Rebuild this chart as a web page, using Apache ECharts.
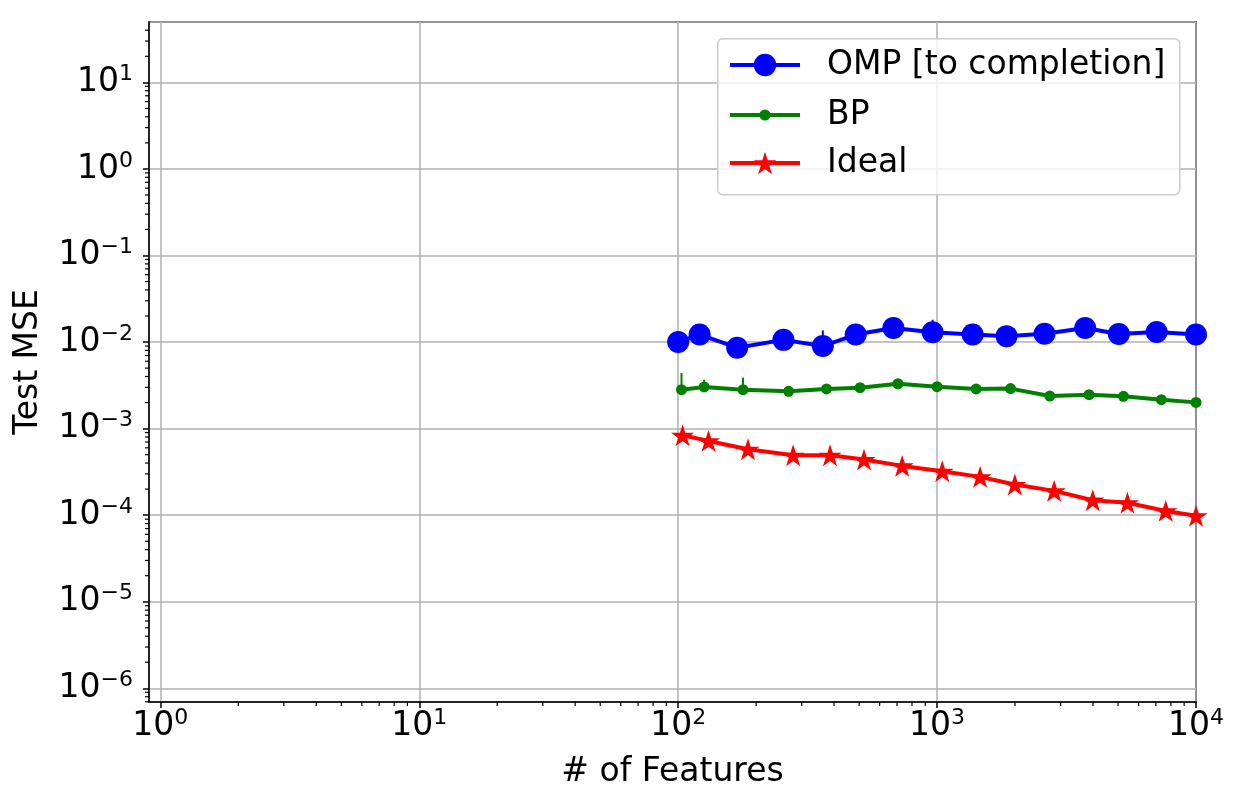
<!DOCTYPE html>
<html>
<head>
<meta charset="utf-8">
<script src="https://cdn.jsdelivr.net/npm/echarts@6/dist/echarts.min.js"></script>
<style>
  html, body { margin: 0; padding: 0; background: #fff; }
  #chart { width: 1241px; height: 806px; }
</style>
</head>
<body>
<div id="chart"></div>
<script>
// values
var ompX   = [100, 121, 169, 255, 362, 485, 678, 961, 1372, 1855, 2600, 3733, 5035, 7047, 10000];
var ompY   = [0.0100, 0.0122, 0.0086, 0.0106, 0.0090, 0.0122, 0.0145, 0.0130, 0.0122, 0.0117, 0.0125, 0.0145, 0.0124, 0.0131, 0.0122];
var bpX    = [103, 126, 178, 267, 374, 504, 706, 1000, 1415, 1922, 2725, 3863, 5245, 7350, 10000];
var bpY    = [0.00282, 0.00303, 0.00282, 0.00270, 0.00287, 0.00297, 0.00330, 0.00305, 0.00287, 0.00290, 0.00238, 0.00247, 0.00236, 0.00216, 0.00201];
var idealX = [104, 131, 186, 278, 386, 522, 733, 1047, 1466, 1996, 2832, 3992, 5433, 7638, 10000];
var idealY = [0.000837, 0.000721, 0.000578, 0.000493, 0.000493, 0.000439, 0.000371, 0.000322, 0.000277, 0.000226, 0.000191, 0.000149, 0.000139, 0.000112, 0.0000983];

// error bars that stick out of the markers: [x, value, upper]
var ompErr = [[362, 0.0090, 0.01365], [961, 0.0130, 0.0181]];
var bpErr  = [[103, 0.00282, 0.00439], [126, 0.00303, 0.00367], [178, 0.00282, 0.00388]];

var names = ['OMP [to completion]', 'BP', 'Ideal'];
var colors = ['#0000ff', '#008000', '#ff0000'];

var xMin = 0.904, xMax = 10000;
var yMin = 6.95e-7, yMax = 49.8;

var FONT = 'DejaVu Sans';
var star = 'path://M50,0 L61.23,34.55 L97.55,34.55 L68.17,55.9 L79.39,90.45 L50,69.1 L20.61,90.45 L31.83,55.9 L2.45,34.55 L38.77,34.55 Z';

function pairs(xs, ys) {
    return xs.map(function (x, i) { return [x, ys[i]]; });
}

function powLabel(v) {
    var e = Math.round(Math.log(v) / Math.LN10);
    return '{b|10}{s|' + (e < 0 ? '\u2212' + (-e) : e) + '}';
}

var labelRich = {
    b: { fontSize: 33, fontFamily: FONT, color: '#000', lineHeight: 38 },
    s: { fontSize: 22, fontFamily: FONT, color: '#000', lineHeight: 24, verticalAlign: 'top' }
};

// minor tick positions 2..9 of each decade
var xMinor = [], yMinor = [];
for (var k = 0; k <= 3; k++) for (var m = 2; m <= 9; m++) xMinor.push([m * Math.pow(10, k), yMin]);
for (var k = -7; k <= 1; k++) for (var m = 2; m <= 9; m++) {
    var v = m * Math.pow(10, k);
    if (v >= yMin && v <= yMax) yMinor.push([xMin, v]);
}

function minorTicks(data, dir) {
    return {
        type: 'custom', data: data, silent: true, z: 5,
        renderItem: function (params, api) {
            var p = api.coord([api.value(0), api.value(1)]);
            var s = dir == 'x' ? { x1: p[0], y1: p[1], x2: p[0], y2: p[1] + 4 }
                               : { x1: p[0] - 4, y1: p[1], x2: p[0], y2: p[1] };
            return { type: 'line', shape: s, style: { stroke: '#000', lineWidth: 1.2 } };
        }
    };
}

function errBars(data, color) {
    return {
        type: 'custom', data: data, silent: true, z: 1,
        encode: { x: 0, y: [1, 2] },
        renderItem: function (params, api) {
            var a = api.coord([api.value(0), api.value(1)]);
            var b = api.coord([api.value(0), api.value(2)]);
            return { type: 'line', shape: { x1: a[0], y1: a[1], x2: b[0], y2: b[1] },
                     style: { stroke: color, lineWidth: 2 } };
        }
    };
}

function lineSeries(i, data, symbol, size) {
    return {
        name: names[i], type: 'line', data: data, z: 2,
        symbol: symbol, symbolSize: size, symbolKeepAspect: true, showAllSymbol: true,
        lineStyle: { color: colors[i], width: 4 },
        itemStyle: { color: colors[i] }
    };
}

function oneLegend(i, top, h) {
    return {
        data: [names[i]], orient: 'vertical', left: 728, top: top, padding: 0,
        itemWidth: 70, itemHeight: h, selectedMode: false, z: 10,
        lineStyle: { width: 4 },
        textStyle: { fontSize: 33, fontFamily: FONT, color: '#000', lineHeight: 36, padding: [0, 0, 0, 22] }
    };
}

var myChart = echarts.init(document.getElementById('chart'), null, { renderer: 'canvas' });

var option = {
    animation: false,
    backgroundColor: '#fff',
    grid: { left: 149, top: 22, right: 45, bottom: 104, show: true, borderColor: '#000', borderWidth: 1.5, backgroundColor: 'transparent' },
    xAxis: {
        type: 'log', logBase: 10, min: xMin, max: xMax, splitNumber: 4,
        name: '# of Features', nameLocation: 'middle', nameGap: 54,
        nameTextStyle: { fontSize: 33, fontFamily: FONT, color: '#000' },
        axisLine: { lineStyle: { color: '#000', width: 1.5 } },
        axisTick: { show: true, inside: false, length: 6, lineStyle: { color: '#000', width: 1.5 } },
        axisLabel: { margin: 5, showMinLabel: false, formatter: powLabel, rich: labelRich },
        splitLine: { show: true, lineStyle: { color: '#b0b0b0', width: 1.5 } }
    },
    yAxis: {
        type: 'log', logBase: 10, min: yMin, max: yMax, splitNumber: 8,
        name: 'Test MSE', nameLocation: 'middle', nameGap: 104,
        nameTextStyle: { fontSize: 33, fontFamily: FONT, color: '#000' },
        axisLine: { lineStyle: { color: '#000', width: 1.5 } },
        axisTick: { show: true, inside: false, length: 6, lineStyle: { color: '#000', width: 1.5 } },
        axisLabel: { margin: 16, showMinLabel: false, showMaxLabel: false, formatter: powLabel, rich: labelRich },
        splitLine: { show: true, lineStyle: { color: '#b0b0b0', width: 1.5 } }
    },
    legend: [oneLegend(0, 47, 28), oneLegend(1, 97, 14), oneLegend(2, 145, 28)],
    graphic: [{
        type: 'rect', left: 717, top: 38, z: 9,
        shape: { width: 462, height: 156, r: 5 },
        style: { fill: 'rgba(255,255,255,0.8)', stroke: '#cccccc', lineWidth: 1.5 }
    }],
    series: [
        errBars(ompErr, colors[0]),
        errBars(bpErr, colors[1]),
        lineSeries(0, pairs(ompX, ompY), 'circle', 22),
        lineSeries(1, pairs(bpX, bpY), 'circle', 11),
        lineSeries(2, pairs(idealX, idealY), star, 23),
        minorTicks(xMinor, 'x'),
        minorTicks(yMinor, 'y')
    ]
};

myChart.setOption(option);
</script>
</body>
</html>
